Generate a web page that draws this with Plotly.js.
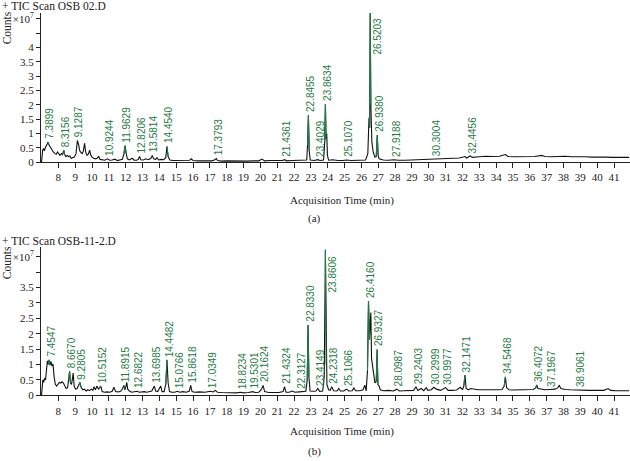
<!DOCTYPE html>
<html>
<head>
<meta charset="utf-8">
<script src="https://cdn.plot.ly/plotly-3.0.1.min.js"></script>
<style>html,body{margin:0;padding:0;background:#fff}#chart{width:630px;height:461px}</style>
</head>
<body>
<div id="chart"></div>
<script>
// ---------- Panel (a): TIC Scan OSB 02.D (counts in units of 1e7) ----------
const timeA = [7.00,7.03,7.07,7.12,7.17,7.22,7.28,7.34,7.39,7.45,7.52,7.60,7.70,7.80,7.88,7.95,8.02,8.10,8.18,8.25,8.32,8.38,8.45,8.52,8.60,8.68,8.76,8.85,8.95,9.05,9.13,9.20,9.27,9.35,9.42,9.48,9.56,9.62,9.70,9.78,9.86,9.92,10.00,10.10,10.20,10.30,10.40,10.48,10.60,10.75,10.92,11.05,11.20,11.35,11.50,11.65,11.80,11.90,11.96,12.03,12.10,12.22,12.38,12.50,12.65,12.75,12.82,12.90,13.05,13.20,13.35,13.50,13.58,13.66,13.78,13.86,13.95,14.10,14.25,14.38,14.45,14.52,14.62,14.80,15.00,15.20,15.40,15.60,15.80,15.90,16.00,16.30,16.60,16.90,17.10,17.30,17.38,17.46,17.70,18.00,18.40,18.80,19.20,19.60,19.90,20.10,20.25,20.60,21.00,21.30,21.44,21.55,21.90,22.20,22.50,22.75,22.80,22.85,22.90,22.96,23.20,23.40,23.55,23.75,23.82,23.86,23.90,23.94,23.98,24.05,24.30,24.60,24.90,25.11,25.40,25.70,26.00,26.25,26.38,26.45,26.49,26.52,26.56,26.62,26.70,26.80,26.88,26.94,26.99,27.05,27.30,27.60,27.92,28.20,28.60,29.00,29.40,29.80,30.10,30.30,30.60,31.00,31.40,31.80,32.15,32.25,32.45,32.60,33.00,33.40,33.80,34.20,34.55,34.70,35.10,35.50,35.90,36.30,36.70,36.90,37.30,37.70,38.10,38.50,38.90,39.30,39.70,40.10,40.50,40.90,41.30,41.90];
const countsA = [0.00,0.20,0.42,0.48,0.40,0.50,0.58,0.66,0.70,0.60,0.52,0.44,0.36,0.30,0.28,0.36,0.32,0.24,0.30,0.26,0.42,0.26,0.20,0.24,0.20,0.22,0.14,0.16,0.18,0.30,0.76,0.62,0.40,0.34,0.30,0.38,0.66,0.36,0.24,0.28,0.42,0.26,0.18,0.14,0.12,0.14,0.20,0.10,0.08,0.07,0.12,0.07,0.08,0.11,0.06,0.07,0.10,0.30,0.58,0.30,0.12,0.08,0.14,0.07,0.07,0.10,0.20,0.09,0.08,0.12,0.09,0.14,0.24,0.12,0.10,0.16,0.08,0.10,0.09,0.16,0.55,0.20,0.08,0.06,0.06,0.05,0.06,0.05,0.07,0.12,0.06,0.05,0.05,0.06,0.05,0.09,0.13,0.06,0.04,0.05,0.04,0.05,0.04,0.05,0.05,0.11,0.05,0.06,0.05,0.06,0.09,0.05,0.06,0.07,0.06,0.08,0.60,1.64,0.40,0.08,0.06,0.09,0.06,0.08,0.70,2.03,0.80,1.00,0.25,0.07,0.09,0.06,0.06,0.08,0.06,0.06,0.06,0.08,0.30,1.55,1.20,5.20,2.00,0.70,0.35,0.18,0.20,0.95,0.25,0.12,0.08,0.07,0.09,0.07,0.07,0.08,0.08,0.09,0.10,0.12,0.11,0.13,0.14,0.15,0.20,0.15,0.22,0.17,0.19,0.21,0.20,0.21,0.27,0.20,0.19,0.20,0.19,0.20,0.24,0.20,0.19,0.20,0.21,0.19,0.20,0.19,0.18,0.19,0.18,0.17,0.18,0.17];
const peakLabelsA = ["7.3899","8.3156","9.1287","10.9244","11.9629","12.8206","13.5814","14.4540","17.3793","21.4361","22.8455","23.4029","23.8634","25.1070","26.5203","26.9380","27.9188","30.3004","32.4456"];

// ---------- Panel (b): TIC Scan OSB-11-2.D ----------
const timeB = [7.00,7.04,7.08,7.13,7.18,7.24,7.30,7.35,7.40,7.45,7.50,7.56,7.62,7.68,7.75,7.82,7.90,7.98,8.06,8.14,8.22,8.30,8.38,8.46,8.55,8.62,8.67,8.72,8.78,8.84,8.88,8.94,9.02,9.12,9.22,9.28,9.35,9.45,9.55,9.65,9.75,9.85,9.95,10.05,10.12,10.20,10.30,10.38,10.45,10.52,10.60,10.75,10.90,11.05,11.20,11.30,11.40,11.55,11.70,11.82,11.89,11.95,12.02,12.06,12.12,12.22,12.35,12.50,12.68,12.80,12.95,13.10,13.25,13.40,13.55,13.70,13.78,13.90,14.02,14.08,14.16,14.28,14.38,14.45,14.52,14.60,14.75,14.90,15.08,15.20,15.40,15.60,15.78,15.86,15.94,16.10,16.40,16.70,17.03,17.20,17.32,17.45,17.70,18.00,18.30,18.60,18.82,19.00,19.30,19.53,19.70,19.90,20.05,20.16,20.25,20.50,20.80,21.10,21.35,21.43,21.52,21.70,21.90,22.05,22.31,22.50,22.70,22.78,22.83,22.88,22.95,23.15,23.30,23.41,23.52,23.70,23.79,23.86,23.90,23.95,24.05,24.15,24.23,24.35,24.55,24.65,24.75,24.95,25.11,25.25,25.45,25.55,25.65,25.90,26.10,26.20,26.28,26.36,26.42,26.48,26.53,26.56,26.60,26.65,26.72,26.80,26.88,26.93,26.98,27.05,27.12,27.30,27.60,27.90,28.10,28.25,28.50,28.80,29.10,29.24,29.35,29.55,29.70,29.85,29.95,30.15,30.30,30.45,30.70,31.00,31.15,31.40,31.65,31.88,32.00,32.08,32.15,32.22,32.35,32.50,32.65,32.90,33.20,33.50,33.80,34.10,34.35,34.48,34.55,34.62,34.75,35.00,35.30,35.60,35.90,36.20,36.35,36.41,36.48,36.65,36.90,37.20,37.50,37.65,37.75,37.85,38.10,38.40,38.70,38.91,39.20,39.50,39.80,40.10,40.40,40.65,40.80,41.10,41.50,41.90];
const countsB = [0.00,0.25,0.50,0.42,0.55,0.50,0.85,1.12,1.00,1.15,0.98,1.10,0.95,1.02,0.60,0.36,0.30,0.36,0.42,0.40,0.44,0.40,0.30,0.22,0.25,0.50,0.78,0.40,0.35,0.55,0.72,0.30,0.20,0.22,0.32,0.42,0.26,0.18,0.20,0.14,0.18,0.15,0.20,0.16,0.28,0.18,0.30,0.20,0.24,0.30,0.12,0.10,0.11,0.10,0.13,0.26,0.12,0.11,0.13,0.22,0.32,0.18,0.30,0.42,0.20,0.14,0.10,0.11,0.13,0.10,0.11,0.12,0.10,0.13,0.14,0.30,0.14,0.12,0.22,0.30,0.12,0.12,0.35,1.15,0.40,0.12,0.10,0.10,0.13,0.10,0.12,0.10,0.14,0.32,0.12,0.10,0.11,0.10,0.13,0.11,0.16,0.10,0.09,0.08,0.08,0.08,0.10,0.08,0.09,0.12,0.09,0.10,0.18,0.32,0.12,0.09,0.09,0.09,0.12,0.28,0.10,0.10,0.14,0.10,0.11,0.12,0.13,0.50,2.28,0.60,0.14,0.13,0.14,0.22,0.13,0.14,0.60,4.72,1.00,0.35,0.18,0.16,0.28,0.15,0.14,0.22,0.14,0.14,0.20,0.14,0.15,0.24,0.15,0.15,0.18,0.33,0.14,0.80,3.06,1.80,2.40,2.69,1.20,0.95,0.75,0.40,0.45,1.49,0.35,0.30,0.18,0.15,0.16,0.14,0.20,0.14,0.15,0.16,0.16,0.28,0.16,0.22,0.15,0.25,0.16,0.18,0.26,0.20,0.16,0.25,0.16,0.16,0.17,0.26,0.18,0.30,0.66,0.22,0.18,0.22,0.20,0.18,0.18,0.19,0.18,0.18,0.19,0.30,0.60,0.25,0.18,0.17,0.18,0.17,0.18,0.19,0.24,0.34,0.22,0.20,0.18,0.19,0.20,0.24,0.32,0.22,0.19,0.18,0.17,0.18,0.17,0.16,0.16,0.16,0.16,0.22,0.16,0.15,0.15,0.15];
const peakLabelsB = ["7.4547","8.6670","9.2805","10.5152","11.8915","12.6822","13.6985","14.4482","15.0766","15.8618","17.0349","18.8234","19.5301","20.1624","21.4324","22.3127","22.8330","23.4149","23.8606","24.2318","25.1066","26.4160","26.9327","28.0987","29.2403","30.2999","30.9977","32.1471","34.5468","36.4072","37.1967","38.9061"];

const xTicks = [8,9,10,11,12,13,14,15,16,17,18,19,20,21,22,23,24,25,26,27,28,29,30,31,32,33,34,35,36,37,38,39,40,41];
const yTicksA = [0,0.5,1,1.5,2,2.5,3,3.5,4,5];
const yTextA = ["0","0.5","1","1.5","2","2.5","3","3.5","4","×10<sup>7</sup>"];
const yMinorA = [4.5];
const yTicksB = [0,0.5,1,1.5,2,2.5,3,3.5,4.5];
const yTextB = ["0","0.5","1","1.5","2","2.5","3","3.5","×10<sup>7</sup>"];
const yMinorB = [4];

const GREEN = '#1f7a45';
const SERIF = 'Liberation Serif, Times New Roman, serif';
const SANS = 'Liberation Sans, Arial, sans-serif';

function greenSegments(t, c, labels, w) {
  const gx = [], gy = [];
  labels.forEach(l => {
    const p = parseFloat(l);
    for (let i = 0; i < t.length; i++) {
      if (Math.abs(t[i] - p) <= w) { gx.push(t[i]); gy.push(c[i]); }
    }
    gx.push(null); gy.push(null);
  });
  return [gx, gy];
}
function apex(t, c, p, w) {
  let m = 0;
  for (let i = 0; i < t.length; i++) if (Math.abs(t[i] - p) <= w && c[i] > m) m = c[i];
  return m;
}

const [gxA, gyA] = greenSegments(timeA, countsA, peakLabelsA, 0.07);
const [gxB, gyB] = greenSegments(timeB, countsB, peakLabelsB, 0.07);

const traces = [
  {x: timeA, y: countsA, xaxis: 'x', yaxis: 'y', type: 'scatter', mode: 'lines', line: {color: '#111', width: 1.1}, hoverinfo: 'skip'},
  {x: gxA, y: gyA, xaxis: 'x', yaxis: 'y', type: 'scatter', mode: 'lines', line: {color: GREEN, width: 1.1}, connectgaps: false, hoverinfo: 'skip'},
  {x: timeB, y: countsB, xaxis: 'x2', yaxis: 'y2', type: 'scatter', mode: 'lines', line: {color: '#111', width: 1.1}, hoverinfo: 'skip'},
  {x: gxB, y: gyB, xaxis: 'x2', yaxis: 'y2', type: 'scatter', mode: 'lines', line: {color: GREEN, width: 1.1}, connectgaps: false, hoverinfo: 'skip'}
];

const annotations = [];
function addPeakLabels(labels, t, c, xref, yref, topOverrides) {
  labels.forEach(l => {
    const p = parseFloat(l);
    const a = apex(t, c, p, 0.06);
    const ov = topOverrides[l];
    if (ov) {
      annotations.push({x: p, y: ov, xref: xref, yref: yref, text: l, showarrow: false, textangle: -90,
        xanchor: 'center', yanchor: 'top', xshift: 7, font: {family: SANS, size: 10, color: GREEN}});
    } else {
      annotations.push({x: p, y: a, xref: xref, yref: yref, text: l, showarrow: false, textangle: -90,
        xanchor: 'center', yanchor: 'bottom', xshift: 2, yshift: 1, font: {family: SANS, size: 10, color: GREEN}});
    }
  });
}
addPeakLabels(peakLabelsA, timeA, countsA, 'x', 'y', {"26.5203": 5.1});
addPeakLabels(peakLabelsB, timeB, countsB, 'x2', 'y2', {"23.8606": 4.6});

const txt = (text, x, y, xa, ya, size, extra) => Object.assign({text, x, y, xref: 'paper', yref: 'paper', xanchor: xa, yanchor: ya,
  showarrow: false, font: {family: SERIF, size: size, color: '#222'}}, extra || {});
annotations.push(txt('+ TIC Scan OSB 02.D', -0.0702, 0.987, 'left', 'middle', 11.5));
annotations.push(txt('Counts', -0.0574, 0.939, 'center', 'middle', 11.5, {textangle: -90}));
annotations.push(txt('Acquisition Time (min)', 0.5107, 0.566, 'center', 'middle', 11));
annotations.push(txt('(a)', 0.4649, 0.526, 'center', 'middle', 11));
annotations.push(txt('+ TIC Scan OSB-11-2.D', -0.0702, 0.477, 'left', 'middle', 11.5));
annotations.push(txt('Counts', -0.0574, 0.4295, 'center', 'middle', 11.5, {textangle: -90}));
annotations.push(txt('Acquisition Time (min)', 0.5107, 0.063, 'center', 'middle', 11));
annotations.push(txt('(b)', 0.4649, 0.021, 'center', 'middle', 11));

const xBase = {range: [6.97, 41.95], tickmode: 'array', tickvals: xTicks, ticks: 'outside', ticklen: 5, tickwidth: 1,
  tickcolor: '#222', showline: true, linecolor: '#222', linewidth: 1, showgrid: false, zeroline: false,
  tickfont: {family: SERIF, size: 11, color: '#222'}, domain: [0, 1], fixedrange: true};
const yBase = {tickmode: 'array', ticks: 'outside', ticklen: 4, tickwidth: 1, tickcolor: '#222', showline: true,
  linecolor: '#222', linewidth: 1, showgrid: false, zeroline: false, tickfont: {family: SERIF, size: 11, color: '#222'}, fixedrange: true};

const layout = {
  width: 630, height: 461, margin: {l: 41, r: 0, t: 0, b: 0}, paper_bgcolor: '#fff', plot_bgcolor: '#fff',
  showlegend: false,
  xaxis: Object.assign({}, xBase, {anchor: 'y'}),
  yaxis: Object.assign({}, yBase, {anchor: 'x', domain: [0.648, 0.972], range: [0, 5.2], tickvals: yTicksA, ticktext: yTextA,
    minor: {tickmode: 'array', tickvals: yMinorA, ticks: 'outside', ticklen: 4, tickcolor: '#222', showgrid: false}}),
  xaxis2: Object.assign({}, xBase, {anchor: 'y2'}),
  yaxis2: Object.assign({}, yBase, {anchor: 'x2', domain: [0.1425, 0.464], range: [0, 4.81], tickvals: yTicksB, ticktext: yTextB,
    minor: {tickmode: 'array', tickvals: yMinorB, ticks: 'outside', ticklen: 4, tickcolor: '#222', showgrid: false}}),
  annotations: annotations
};

Plotly.newPlot('chart', traces, layout, {staticPlot: true, displayModeBar: false});
</script>
</body>
</html>
